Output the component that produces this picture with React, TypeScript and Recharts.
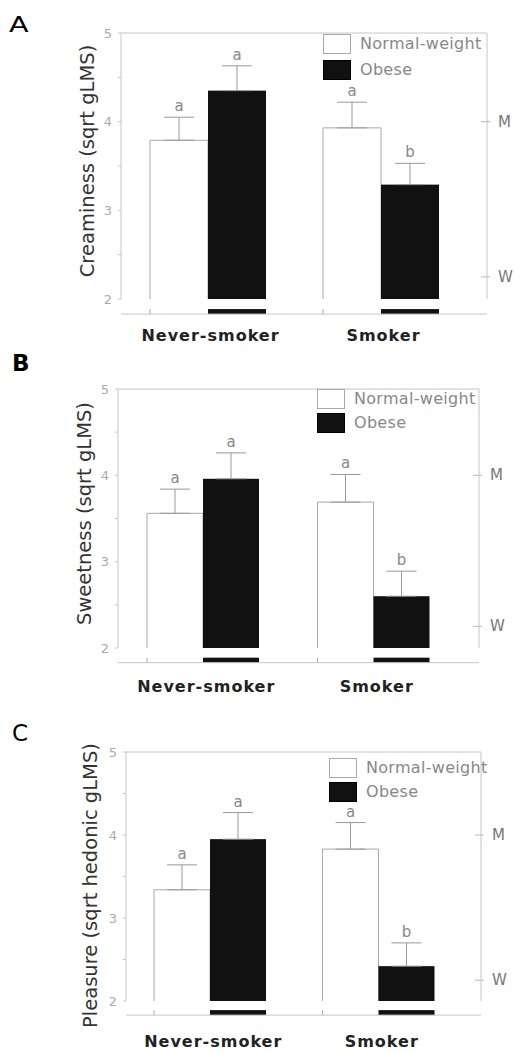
import React from "react"
import { ComposedChart, Bar, Line, XAxis, YAxis, ErrorBar, Legend, ReferenceLine } from "recharts"

const categories = ["Never-smoker", "Smoker"]

const creaminessNormal = [3.79, 3.93]
const creaminessNormalErr = [0.26, 0.29]
const creaminessObese = [4.35, 3.29]
const creaminessObeseErr = [0.28, 0.24]

const sweetnessNormal = [3.56, 3.69]
const sweetnessNormalErr = [0.28, 0.32]
const sweetnessObese = [3.96, 2.6]
const sweetnessObeseErr = [0.3, 0.29]

const pleasureNormal = [3.34, 3.83]
const pleasureNormalErr = [0.3, 0.32]
const pleasureObese = [3.95, 2.42]
const pleasureObeseErr = [0.32, 0.28]

const normalLetters = ["a", "a"]
const obeseLetters = ["a", "b"]

const yTicks = [2, 2.5, 3, 3.5, 4, 4.5, 5]
// gLMS anchors on the right axis
const scaleTicks = [2.25, 4.0]
const scaleTickLabels = ["W", "M"]

const LINE = "#c6c6c6"
const OUTLINE = "#a8a8a8"
const BLACK = "#111111"
// value where the broken axis' base line is drawn (below the 2..5 range)
const BASE_LINE = 1.83

function barShape(valueKey: string, errKey: string, letterKey: string, dark: boolean) {
    return (props: any) => {
        const { x, y, width, height, payload } = props
        const value = payload[valueKey]
        const ppu = height / (value - 2)
        const bottom = y + height
        const baseY = bottom + (2 - BASE_LINE) * ppu
        const errTop = y - payload[errKey][1] * ppu
        return (
            <g>
                {dark ? (
                    <rect x={x} y={y} width={width} height={height} fill={BLACK} />
                ) : (
                    <>
                        <rect x={x} y={y} width={width} height={height} fill="#fff" />
                        <path
                            d={`M${x},${bottom}V${y}H${x + width}V${bottom}`}
                            fill="none"
                            stroke={OUTLINE}
                        />
                    </>
                )}
                {dark ? (
                    <rect x={x} y={baseY - 5} width={width} height={5} fill={BLACK} />
                ) : (
                    <line x1={x} x2={x} y1={baseY - 5} y2={baseY} stroke={OUTLINE} />
                )}
                <text x={x + width / 2} y={errTop - 6} textAnchor="middle" fontSize={15} fill="#888">
                    {payload[letterKey]}
                </text>
            </g>
        )
    }
}

const ScaleTick = (props: any) => {
    const { x, y, payload } = props
    const idx = scaleTicks.indexOf(payload.value)
    return (
        <g>
            <line x1={x - 6} x2={x + 3} y1={y} y2={y} stroke="#bbb" />
            <text x={x + 11} y={y + 5} fontSize={15} fill="#777">
                {scaleTickLabels[idx]}
            </text>
        </g>
    )
}

const legendContent = (rowHeight: number) => (props: any) => (
    <div style={{ display: "flex", flexDirection: "column" }}>
        {(props.payload || [])
            .filter((entry: any) => entry.type !== "none")
            .map((entry: any) => (
                <div key={entry.value} style={{ display: "flex", alignItems: "center", height: rowHeight }}>
                    <span
                        style={{
                            display: "inline-block",
                            width: 26,
                            height: 18,
                            background: entry.color,
                            border: `1px solid ${entry.color === "#ffffff" ? "#aaa" : "#000"}`,
                            marginRight: 9,
                        }}
                    />
                    <span style={{ fontSize: 16, color: "#888", lineHeight: 1, letterSpacing: 0.3 }}>
                        {entry.value}
                    </span>
                </div>
            ))}
    </div>
)

interface PanelProps {
    letter: string
    letterStyle: React.CSSProperties
    yLabel: string
    normal: number[]
    normalErr: number[]
    obese: number[]
    obeseErr: number[]
    top: number
    height: number
    marginTop: number
    xAxisHeight: number
    plotLeft: number
    plotRight: number
    padRight: number
    catGap: number
    legendLeft: number
    legendTop: number
    legendRow: number
    labelX: number
    labelDy: number
    tickDy: number
}

function Panel(p: PanelProps) {
    const data = categories.map((name, i) => ({
        name,
        normal: p.normal[i],
        normalErr: [0, p.normalErr[i]],
        normalLetter: normalLetters[i],
        obese: p.obese[i],
        obeseErr: [0, p.obeseErr[i]],
        obeseLetter: obeseLetters[i],
    }))

    return (
        <div style={{ position: "absolute", left: 0, top: p.top, width: 514, height: p.height }}>
            <div style={{ position: "absolute", ...p.letterStyle }}>{p.letter}</div>
            <ComposedChart
                width={514}
                height={p.height}
                data={data}
                margin={{ top: p.marginTop, right: 0, bottom: 0, left: 0 }}
                barGap={0}
                barCategoryGap={p.catGap}
            >
                <XAxis
                    dataKey="name"
                    axisLine={false}
                    tickLine={false}
                    tickSize={0}
                    tickMargin={0}
                    height={p.xAxisHeight}
                    padding={{ left: 0, right: p.padRight }}
                    interval={0}
                    tick={(t: any) => (
                        <text
                            x={t.x + 3}
                            y={t.y + p.tickDy}
                            textAnchor="middle"
                            fontSize={16}
                            fontWeight="bold"
                            letterSpacing={1}
                            fill="#222"
                        >
                            {t.payload.value}
                        </text>
                    )}
                />
                <YAxis
                    domain={[2, 5]}
                    ticks={yTicks}
                    interval={0}
                    width={p.plotLeft}
                    axisLine={{ stroke: LINE }}
                    tickLine={{ stroke: LINE }}
                    tickSize={3}
                    tickMargin={6}
                    tick={{ fontSize: 13, fill: "#aaa" }}
                    tickFormatter={(v: number) => (Number.isInteger(v) ? String(v) : "")}
                    label={{
                        content: (lp: any) => {
                            const vb = lp.viewBox || {}
                            const cy = vb.y + vb.height / 2 + p.labelDy
                            return (
                                <text
                                    transform={`translate(${p.labelX},${cy}) rotate(-90)`}
                                    textAnchor="middle"
                                    dominantBaseline="central"
                                    fontSize={19.5}
                                    fill="#333"
                                >
                                    {p.yLabel}
                                </text>
                            )
                        },
                    }}
                />
                <YAxis
                    yAxisId="scale"
                    orientation="right"
                    domain={[2, 5]}
                    allowDataOverflow
                    ticks={scaleTicks}
                    interval={0}
                    width={514 - p.plotRight}
                    axisLine={{ stroke: LINE }}
                    tickLine={false}
                    tickSize={0}
                    tickMargin={0}
                    tick={<ScaleTick />}
                />
                <ReferenceLine y={5} stroke={LINE} />
                <ReferenceLine y={BASE_LINE} stroke={LINE} ifOverflow="visible" />
                <Legend
                    layout="vertical"
                    align="center"
                    verticalAlign="middle"
                    wrapperStyle={{ left: p.legendLeft, top: p.legendTop }}
                    content={legendContent(p.legendRow)}
                />
                <Bar
                    dataKey="normal"
                    name="Normal-weight"
                    fill="#ffffff"
                    isAnimationActive={false}
                    shape={barShape("normal", "normalErr", "normalLetter", false)}
                >
                    <ErrorBar dataKey="normalErr" width={15} stroke="#999" strokeWidth={1} direction="y" />
                </Bar>
                <Bar
                    dataKey="obese"
                    name="Obese"
                    fill={BLACK}
                    isAnimationActive={false}
                    shape={barShape("obese", "obeseErr", "obeseLetter", true)}
                >
                    <ErrorBar dataKey="obeseErr" width={15} stroke="#999" strokeWidth={1} direction="y" />
                </Bar>
                {/* invisible series so the gLMS axis gets its ticks */}
                <Line
                    yAxisId="scale"
                    dataKey="normal"
                    stroke="none"
                    dot={false}
                    activeDot={false}
                    legendType="none"
                    isAnimationActive={false}
                />
            </ComposedChart>
        </div>
    )
}

export default function App() {
    return (
        <div
            style={{
                position: "absolute",
                left: 0,
                top: 0,
                width: 514,
                height: 1053,
                background: "#fff",
                fontFamily: "'DejaVu Sans', sans-serif",
            }}
        >
            <Panel
                letter="A"
                letterStyle={{ left: 9, top: 14, fontSize: 22, lineHeight: "22px", transform: "scaleX(1.3)", transformOrigin: "left" }}
                yLabel="Creaminess (sqrt gLMS)"
                normal={creaminessNormal}
                normalErr={creaminessNormalErr}
                obese={creaminessObese}
                obeseErr={creaminessObeseErr}
                top={0}
                height={350}
                marginTop={33}
                xAxisHeight={51}
                plotLeft={121}
                plotRight={487}
                padRight={20}
                catGap={29}
                legendLeft={323}
                legendTop={31}
                legendRow={26}
                labelX={87}
                labelDy={-5}
                tickDy={42}
            />
            <Panel
                letter="B"
                letterStyle={{ left: 12, top: 7, fontSize: 23, lineHeight: "23px", fontWeight: "bold" }}
                yLabel="Sweetness (sqrt gLMS)"
                normal={sweetnessNormal}
                normalErr={sweetnessNormalErr}
                obese={sweetnessObese}
                obeseErr={sweetnessObeseErr}
                top={345}
                height={353}
                marginTop={44}
                xAxisHeight={50}
                plotLeft={118}
                plotRight={479}
                padRight={20}
                catGap={29}
                legendLeft={317}
                legendTop={42}
                legendRow={24}
                labelX={84}
                labelDy={-5}
                tickDy={44}
            />
            <Panel
                letter="C"
                letterStyle={{ left: 12, top: 22, fontSize: 23, lineHeight: "23px" }}
                yLabel="Pleasure (sqrt hedonic gLMS)"
                normal={pleasureNormal}
                normalErr={pleasureNormalErr}
                obese={pleasureObese}
                obeseErr={pleasureObeseErr}
                top={700}
                height={353}
                marginTop={52}
                xAxisHeight={52}
                plotLeft={126}
                plotRight={481}
                padRight={18}
                catGap={28}
                legendLeft={329}
                legendTop={56}
                legendRow={24}
                labelX={90}
                labelDy={9}
                tickDy={46}
            />
        </div>
    )
}
